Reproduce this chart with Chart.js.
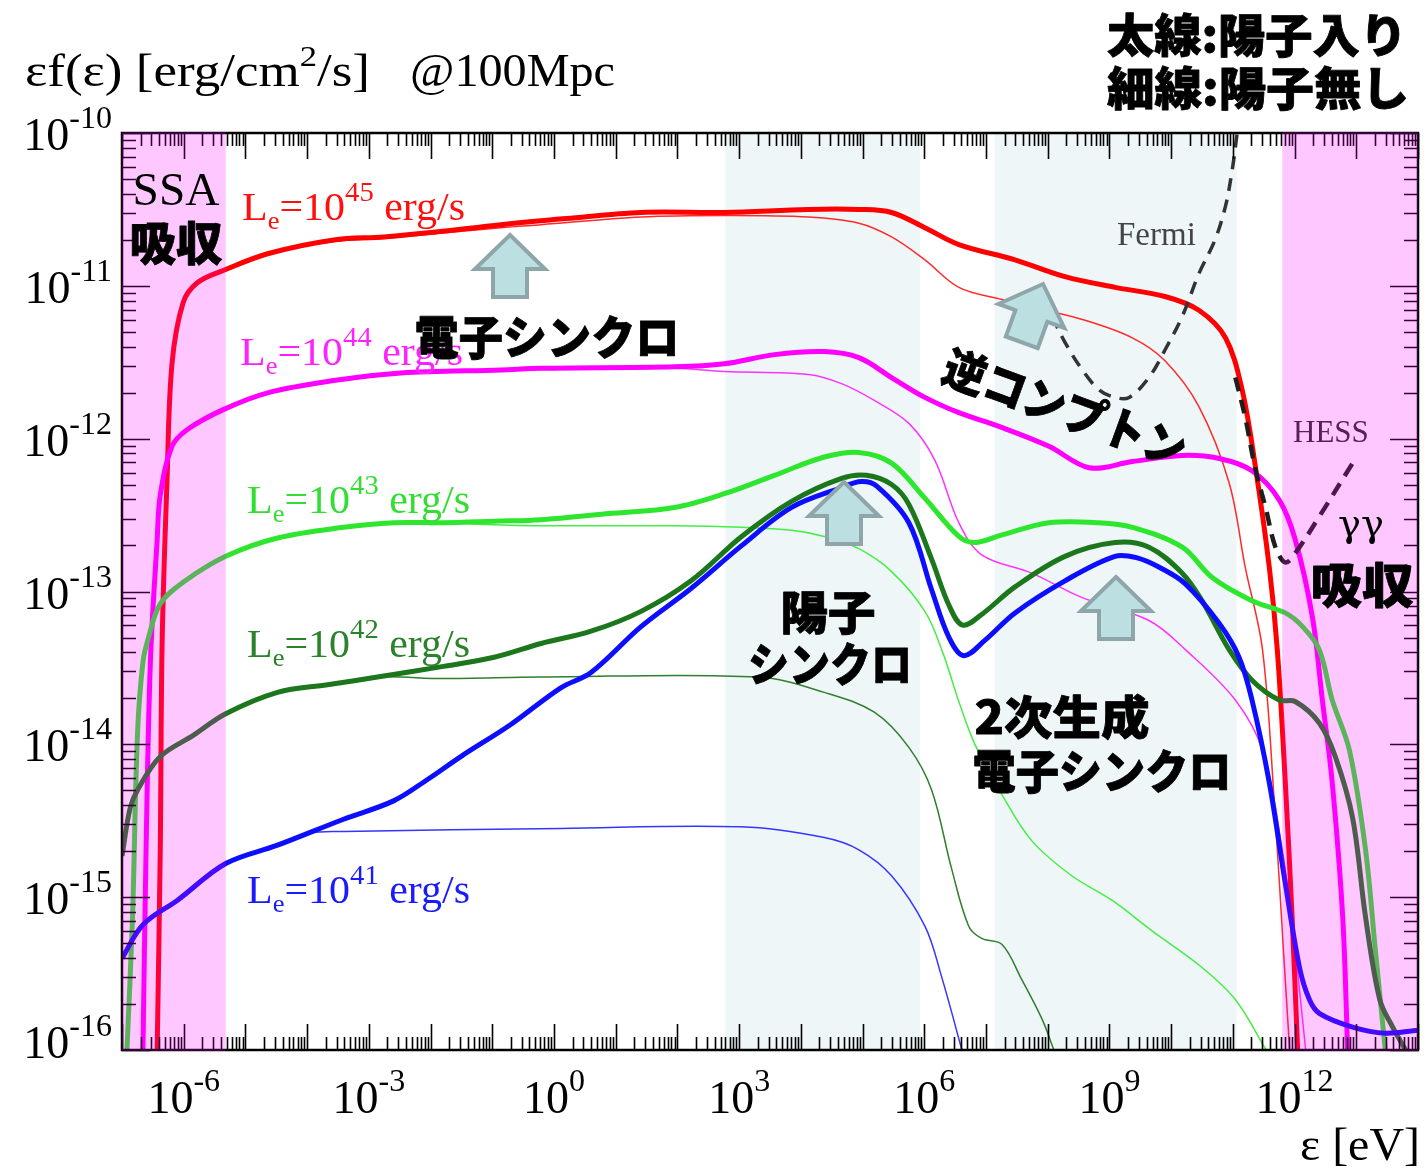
<!DOCTYPE html>
<html lang="ja">
<head>
<meta charset="UTF-8">
<title>SED @100Mpc</title>
<script src="https://cdn.jsdelivr.net/npm/chart.js"></script>
<style>
  html, body { margin: 0; padding: 0; background: #fff; }
  #wrap { width: 1427px; height: 1176px; }
</style>
</head>
<body>
<div id="wrap"><canvas id="sed" width="1427" height="1176"></canvas></div>
<script>
// values, stored as log10(eV) and log10(erg/cm2/s)
const redThickE = [-6.43, -6.38, -6.35, -6.27, -6.19, -6.01, -5.78, -5.36, -4.64, -3.57, -2.76, -1.95, -0.86, 0.2, 1.41, 2.76, 4.12, 4.94, 5.47, 6.01, 6.56, 7.47, 8.28, 9.09, 9.9, 10.45, 10.88, 11.15, 11.36, 11.59, 11.72, 11.85, 11.96, 12.05];
const redThickF = [-16.0, -14.69, -13.34, -12.27, -11.51, -11.11, -10.98, -10.9, -10.79, -10.7, -10.68, -10.65, -10.6, -10.56, -10.52, -10.52, -10.5, -10.5, -10.52, -10.62, -10.73, -10.83, -10.94, -11.01, -11.07, -11.16, -11.34, -11.68, -12.17, -12.84, -13.38, -14.25, -15.13, -16.0];
const redThinE = [-6.43, -6.38, -6.35, -6.27, -6.19, -6.01, -5.78, -5.36, -4.64, -3.57, -2.76, -1.95, -0.86, -0.21, 1.41, 2.76, 4.12, 4.94, 5.47, 6.01, 6.56, 7.26, 7.74, 8.56, 9.37, 9.9, 10.45, 10.94, 11.2, 11.48, 11.67, 11.82, 11.92];
const redThinF = [-16.0, -14.69, -13.34, -12.27, -11.51, -11.11, -10.98, -10.9, -10.79, -10.71, -10.69, -10.66, -10.62, -10.6, -10.55, -10.54, -10.55, -10.59, -10.68, -10.83, -11.01, -11.09, -11.14, -11.22, -11.34, -11.49, -11.79, -12.29, -12.84, -13.38, -14.37, -15.35, -16.0];

const magThickE = [-6.66, -6.61, -6.54, -6.43, -6.38, -6.19, -5.94, -5.36, -4.64, -3.57, -2.48, -0.86, -0.21, 1.95, 2.76, 3.57, 4.38, 4.94, 5.47, 6.01, 6.56, 7.21, 8.02, 8.67, 9.37, 10.18, 10.78, 11.31, 11.75, 12.01, 12.29, 12.45, 12.61, 12.78, 12.86];
const magThickF = [-16.0, -14.69, -13.46, -12.66, -12.37, -12.05, -11.94, -11.81, -11.7, -11.62, -11.57, -11.55, -11.54, -11.53, -11.51, -11.45, -11.43, -11.47, -11.6, -11.73, -11.83, -11.92, -12.05, -12.19, -12.15, -12.11, -12.13, -12.21, -12.4, -12.66, -13.17, -13.71, -14.25, -15.13, -16.0];
const magThinE = [-6.66, -6.61, -6.54, -6.43, -6.38, -6.19, -5.94, -5.36, -4.64, -3.57, -2.48, -0.86, -0.21, 1.95, 2.76, 4.12, 4.66, 5.19, 5.75, 6.17, 6.56, 6.93, 7.74, 8.56, 9.64, 10.23, 11.04, 11.48, 11.8, 12.01, 12.18];
const magThinF = [-16.0, -14.69, -13.46, -12.66, -12.37, -12.05, -11.94, -11.81, -11.7, -11.62, -11.57, -11.55, -11.54, -11.54, -11.56, -11.58, -11.64, -11.75, -11.9, -12.14, -12.55, -12.76, -12.88, -13.04, -13.19, -13.38, -13.71, -14.04, -14.69, -15.35, -16.0];

const greenThickE = [-6.92, -6.83, -6.75, -6.66, -6.57, -6.38, -6.01, -5.32, -4.48, -3.41, -2.6, -1.79, -0.97, -0.21, 0.88, 1.95, 2.76, 3.57, 4.38, 4.94, 5.47, 6.01, 6.56, 6.82, 7.26, 8.02, 8.83, 9.37, 10.18, 10.67, 11.31, 11.85, 12.13, 12.4, 12.61, 12.89, 13.15, 13.31, 13.47];
const greenThickF = [-16.0, -15.14, -13.94, -13.46, -13.3, -13.08, -12.94, -12.77, -12.65, -12.58, -12.55, -12.55, -12.54, -12.53, -12.49, -12.45, -12.36, -12.24, -12.12, -12.09, -12.16, -12.39, -12.64, -12.68, -12.63, -12.55, -12.55, -12.58, -12.71, -12.91, -13.06, -13.14, -13.23, -13.38, -13.71, -14.04, -14.69, -15.35, -16.0];
const greenThinE = [-6.92, -6.83, -6.75, -6.66, -6.57, -6.38, -6.01, -5.32, -4.48, -3.41, -2.6, -1.79, -1.23, -0.21, 1.95, 3.04, 3.85, 4.38, 4.94, 5.47, 6.01, 6.3, 6.56, 6.82, 7.26, 7.74, 8.39, 9.04, 9.69, 10.5, 11.04, 11.54];
const greenThinF = [-16.0, -15.14, -13.94, -13.46, -13.3, -13.08, -12.94, -12.77, -12.65, -12.58, -12.55, -12.55, -12.56, -12.57, -12.57, -12.58, -12.6, -12.64, -12.72, -12.87, -13.13, -13.4, -13.72, -14.0, -14.33, -14.63, -14.86, -15.02, -15.22, -15.46, -15.67, -16.0];

const darkThickE = [-7.0, -6.87, -6.75, -6.38, -5.84, -5.32, -4.48, -3.67, -2.86, -1.79, -0.97, -0.21, 0.6, 1.41, 2.22, 3.04, 3.85, 4.66, 5.06, 5.47, 5.75, 6.12, 6.4, 6.62, 6.93, 7.47, 8.28, 9.09, 9.64, 10.18, 10.5, 10.94, 11.31, 11.75, 12.01, 12.4, 12.66, 12.94, 13.15, 13.38, 13.59, 13.8];
const darkThickF = [-14.73, -14.42, -14.3, -14.08, -13.94, -13.8, -13.66, -13.61, -13.56, -13.49, -13.43, -13.34, -13.26, -13.13, -12.93, -12.64, -12.41, -12.26, -12.24, -12.3, -12.43, -12.79, -13.09, -13.22, -13.15, -12.97, -12.77, -12.68, -12.71, -12.88, -13.06, -13.38, -13.58, -13.71, -13.72, -13.86, -14.08, -14.48, -15.13, -15.67, -15.85, -16.0];
const darkThinE = [-7.0, -6.87, -6.75, -6.38, -5.84, -5.32, -4.48, -3.67, -2.86, -1.79, -0.21, 3.31, 4.38, 5.19, 5.75, 6.12, 6.44, 6.72, 6.93, 7.26, 7.58, 7.91, 8.1];
const darkThinF = [-14.73, -14.42, -14.3, -14.08, -13.94, -13.8, -13.66, -13.61, -13.56, -13.57, -13.56, -13.56, -13.66, -13.79, -14.02, -14.3, -14.81, -15.19, -15.27, -15.31, -15.54, -15.8, -16.0];

const blueThickE = [-7.0, -6.66, -6.1, -5.32, -4.48, -3.41, -2.6, -2.05, -1.51, -0.7, 0.11, 0.6, 1.41, 2.22, 3.04, 3.85, 4.66, 4.98, 5.23, 5.75, 6.12, 6.4, 6.64, 6.98, 7.47, 8.28, 9.09, 9.45, 9.8, 10.23, 10.78, 11.1, 11.31, 11.59, 11.85, 12.08, 12.24, 12.4, 12.94, 13.47, 14.0];
const blueThickF = [-15.4, -15.18, -15.02, -14.78, -14.66, -14.49, -14.37, -14.23, -14.08, -13.87, -13.63, -13.53, -13.23, -12.98, -12.7, -12.45, -12.32, -12.28, -12.31, -12.55, -12.99, -13.3, -13.42, -13.32, -13.14, -12.93, -12.77, -12.78, -12.84, -12.95, -13.21, -13.43, -13.71, -14.25, -14.91, -15.46, -15.67, -15.76, -15.85, -15.89, -15.87];
const blueThinE = [-7.0, -6.66, -6.1, -5.32, -4.48, -3.94, -3.41, 0.11, 3.04, 4.38, 4.94, 5.47, 6.01, 6.28, 6.61];
const blueThinF = [-15.4, -15.18, -15.02, -14.78, -14.66, -14.58, -14.57, -14.55, -14.54, -14.61, -14.69, -14.86, -15.19, -15.52, -16.0];

const fermiE = [8.07, 8.28, 8.56, 8.83, 9.09, 9.32, 9.64, 9.9, 10.18, 10.45, 10.71, 10.88, 10.99, 11.07];
const fermiF = [-11.2, -11.37, -11.55, -11.68, -11.73, -11.73, -11.6, -11.42, -11.2, -10.92, -10.7, -10.48, -10.24, -10.0];
const hessE = [11.04, 11.2, 11.36, 11.53, 11.69, 11.85, 12.01, 12.4, 12.94];
const hessF = [-11.6, -11.86, -12.19, -12.45, -12.71, -12.81, -12.75, -12.51, -12.16];

// shaded energy ranges (eV)
const absorbBands = [[1e-7, 4.8e-6], [6.3e11, 1e14]];
const windowBands = [[6.0e2, 8.5e5], [1.38e7, 1.15e11]];

// tick label exponents
const xTickExps = [-6, -3, 0, 3, 6, 9, 12];
const yTickExps = [-16, -15, -14, -13, -12, -11, -10];
const lumExps = ['45', '44', '43', '42', '41'];

const SERIF = '"Liberation Serif", "DejaVu Serif", serif';
const JP = '"Noto Sans CJK JP", "Noto Sans CJK SC", sans-serif';

const pts = (e, f) => e.map((v, i) => ({ x: Math.pow(10, v), y: Math.pow(10, f[i]) }));

function line(e, f, color, width, order, dash) {
  return {
    data: pts(e, f),
    borderColor: color,
    borderWidth: width,
    borderDash: dash || [],
    order: order,
    fill: false,
    pointRadius: 0
  };
}

const datasets = [
  line(fermiE, fermiF, '#333333', 3.5, -2, [13, 9]),
  line(hessE, hessF, '#1e1e1e', 4.5, -1, [14, 9]),
  line(blueThickE, blueThickF, '#0d0dff', 5, 0),
  line(darkThickE, darkThickF, '#1c761c', 5, 1),
  line(greenThickE, greenThickF, '#2fe62f', 5, 2),
  line(magThickE, magThickF, '#ff00ff', 5, 3),
  line(redThickE, redThickF, '#ff0000', 5, 4),
  line(blueThinE, blueThinF, '#3535ff', 1.5, 10),
  line(darkThinE, darkThinF, '#2f7f2f', 1.5, 11),
  line(greenThinE, greenThinF, '#44ee44', 1.5, 12),
  line(magThinE, magThinF, '#ff33ff', 1.5, 13),
  line(redThinE, redThinF, '#ff2a2a', 1.5, 14)
];

// text with mixed sizes (superscripts / subscripts); parts = [text, size, dy]
function rich(ctx, parts, x, y, o) {
  o = o || {};
  const weight = o.weight || 'normal';
  const fam = o.family || SERIF;
  let w = 0;
  const ws = parts.map(p => {
    ctx.font = weight + ' ' + p[1] + 'px ' + fam;
    const m = ctx.measureText(p[0]).width;
    w += m;
    return m;
  });
  const sx = o.width ? o.width / w : 1;
  let start = x;
  if (o.align === 'center') start = x - w * sx / 2;
  if (o.align === 'right') start = x - w * sx;
  ctx.save();
  ctx.fillStyle = o.color || '#000';
  ctx.strokeStyle = o.color || '#000';
  ctx.lineJoin = 'round';
  ctx.textAlign = 'left';
  ctx.textBaseline = o.baseline || 'alphabetic';
  ctx.translate(start, y);
  ctx.scale(sx, 1);
  let cx = 0;
  parts.forEach((p, i) => {
    ctx.font = weight + ' ' + p[1] + 'px ' + fam;
    ctx.fillText(p[0], cx, p[2] || 0);
    if (o.stroke) {
      ctx.lineWidth = o.stroke;
      ctx.strokeText(p[0], cx, p[2] || 0);
    }
    cx += ws[i];
  });
  ctx.restore();
}

function jp(ctx, text, cx, cy, size, width, angle) {
  ctx.save();
  ctx.translate(cx, cy);
  if (angle) ctx.rotate(angle);
  rich(ctx, [[text, size, 0]], 0, 0, { family: JP, weight: '900', align: 'center', baseline: 'middle', width: width, stroke: 0.8 });
  ctx.restore();
}

function upArrow(ctx, x, y, angle) {
  ctx.save();
  ctx.translate(x, y);
  if (angle) ctx.rotate(angle);
  ctx.beginPath();
  ctx.moveTo(0, 0);
  ctx.lineTo(35, 34);
  ctx.lineTo(17, 34);
  ctx.lineTo(17, 62);
  ctx.lineTo(-17, 62);
  ctx.lineTo(-17, 34);
  ctx.lineTo(-35, 34);
  ctx.closePath();
  ctx.fillStyle = '#bcdfe2';
  ctx.fill();
  ctx.lineWidth = 4;
  ctx.strokeStyle = '#8ea6aa';
  ctx.stroke();
  ctx.restore();
}

const bandsPlugin = {
  id: 'bands',
  beforeDatasetsDraw(chart) {
    const { ctx, chartArea: a, scales: { x } } = chart;
    ctx.save();
    ctx.fillStyle = '#eef6f8';
    windowBands.forEach(b => {
      const x0 = x.getPixelForValue(b[0]), x1 = x.getPixelForValue(b[1]);
      ctx.fillRect(x0, a.top, x1 - x0, a.bottom - a.top);
    });
    ctx.restore();
  }
};

const overlayPlugin = {
  id: 'overlay',
  afterDatasetsDraw(chart) {
    const { ctx, chartArea: a, scales: { x, y } } = chart;
    ctx.save();

    // arrows
    upArrow(ctx, 510, 235);
    upArrow(ctx, 844, 482);
    upArrow(ctx, 1116, 577);
    upArrow(ctx, 1043, 284, 20 * Math.PI / 180);

    // frame and inward ticks
    ctx.strokeStyle = '#000';
    ctx.lineWidth = 1.6;
    for (let k = -7; k <= 14; k++) {
      for (let m = 1; m <= 9; m++) {
        const v = m * Math.pow(10, k);
        if (v > 1.0001e14) break;
        const px = Math.round(x.getPixelForValue(v)) + 0.5;
        const len = m === 1 ? 26 : 13;
        ctx.beginPath();
        ctx.moveTo(px, a.bottom); ctx.lineTo(px, a.bottom - len);
        ctx.moveTo(px, a.top); ctx.lineTo(px, a.top + len);
        ctx.stroke();
      }
    }
    for (let k = -16; k <= -10; k++) {
      for (let m = 1; m <= 9; m++) {
        const v = m * Math.pow(10, k);
        if (v > 1.0001e-10) break;
        const py = Math.round(y.getPixelForValue(v)) + 0.5;
        const len = m === 1 ? 28 : 14;
        ctx.beginPath();
        ctx.moveTo(a.left, py); ctx.lineTo(a.left + len, py);
        ctx.moveTo(a.right, py); ctx.lineTo(a.right - len, py);
        ctx.stroke();
      }
    }
    ctx.lineWidth = 2.5;
    ctx.strokeRect(a.left, a.top, a.right - a.left, a.bottom - a.top);

    // instrument labels
    rich(ctx, [['Fermi', 33, 0]], 1117, 245, { color: '#444' });
    rich(ctx, [['HESS', 31, 0]], 1293, 442, { color: '#2a2a2a' });

    // absorption ranges, laid over everything below
    ctx.fillStyle = 'rgba(255, 0, 255, 0.22)';
    absorbBands.forEach(b => {
      const x0 = x.getPixelForValue(b[0]), x1 = x.getPixelForValue(b[1]);
      ctx.fillRect(x0, a.top - 1, x1 - x0, a.bottom - a.top + 2);
    });
    ctx.restore();
  },
  afterDraw(chart) {
    const { ctx, scales: { x, y } } = chart;

    // tick labels
    xTickExps.forEach(e => {
      const px = x.getPixelForValue(Math.pow(10, e));
      rich(ctx, [['10', 46, 0], [String(e), 32, -22]], px, 1113, { align: 'center' });
    });
    yTickExps.forEach(e => {
      const py = y.getPixelForValue(Math.pow(10, e));
      const off = e === -16 ? 8 : 17;
      rich(ctx, [['10', 46, 0], [String(e), 32, -22]], 112, py + off, { align: 'right' });
    });

    // axis titles
    rich(ctx, [['\u03B5f(\u03B5) [erg/cm', 46, 0], ['2', 30, -20], ['/s]', 46, 0]], 25, 86, { width: 345 });
    rich(ctx, [['@100Mpc', 46, 0]], 410, 86, { width: 205 });
    rich(ctx, [['\u03B5 [eV]', 46, 0]], 1420, 1160, { align: 'right', width: 120 });

    // luminosity labels
    const lumColors = ['#ff1010', '#ff22ff', '#33dd33', '#2a822a', '#1a1aff'];
    const lumBase = [220, 365, 513, 657, 903];
    const lumX = [242, 240, 247, 247, 247];
    lumExps.forEach((e, i) => {
      rich(ctx, [['L', 41, 0], ['e', 26, 9], ['=10', 41, 0], [e, 28, -19], [' erg/s', 41, 0]],
        lumX[i], lumBase[i], { color: lumColors[i], width: 223 });
    });

    // annotations
    rich(ctx, [['SSA', 47, 0]], 176, 205, { align: 'center', width: 87 });
    jp(ctx, '\u5438\u53CE', 176, 243, 46, 93);
    rich(ctx, [['\u03B3\u03B3', 38, 0]], 1361, 536, { align: 'center', width: 46, family: '"DejaVu Serif", serif' });
    jp(ctx, '\u5438\u53CE', 1362, 585, 48, 103);

    jp(ctx, '\u96FB\u5B50\u30B7\u30F3\u30AF\u30ED', 547, 337, 46, 265);
    jp(ctx, '\u9006\u30B3\u30F3\u30D7\u30C8\u30F3', 1065, 408, 46, 255, 20 * Math.PI / 180);
    jp(ctx, '\u967D\u5B50', 828, 612, 46, 95);
    jp(ctx, '\u30B7\u30F3\u30AF\u30ED', 830, 664, 46, 164);
    jp(ctx, '2\u6B21\u751F\u6210', 1062, 717, 46, 175);
    jp(ctx, '\u96FB\u5B50\u30B7\u30F3\u30AF\u30ED', 1102, 771, 46, 259);

    jp(ctx, '\u592A\u7DDA:\u967D\u5B50\u5165\u308A', 1257, 35, 46, 300);
    jp(ctx, '\u7D30\u7DDA:\u967D\u5B50\u7121\u3057', 1258, 88, 46, 302);
  }
};

new Chart(document.getElementById('sed'), {
  type: 'line',
  data: { datasets: datasets },
  options: {
    responsive: false,
    animation: false,
    devicePixelRatio: 1,
    layout: { padding: { left: 122, right: 9, top: 133, bottom: 126 } },
    plugins: { legend: { display: false }, tooltip: { enabled: false } },
    elements: { point: { radius: 0 }, line: { tension: 0.35 } },
    scales: {
      x: { type: 'logarithmic', min: 1e-7, max: 1e14, display: false },
      y: { type: 'logarithmic', min: 1e-16, max: 1e-10, display: false }
    }
  },
  plugins: [bandsPlugin, overlayPlugin]
});
</script>
</body>
</html>
